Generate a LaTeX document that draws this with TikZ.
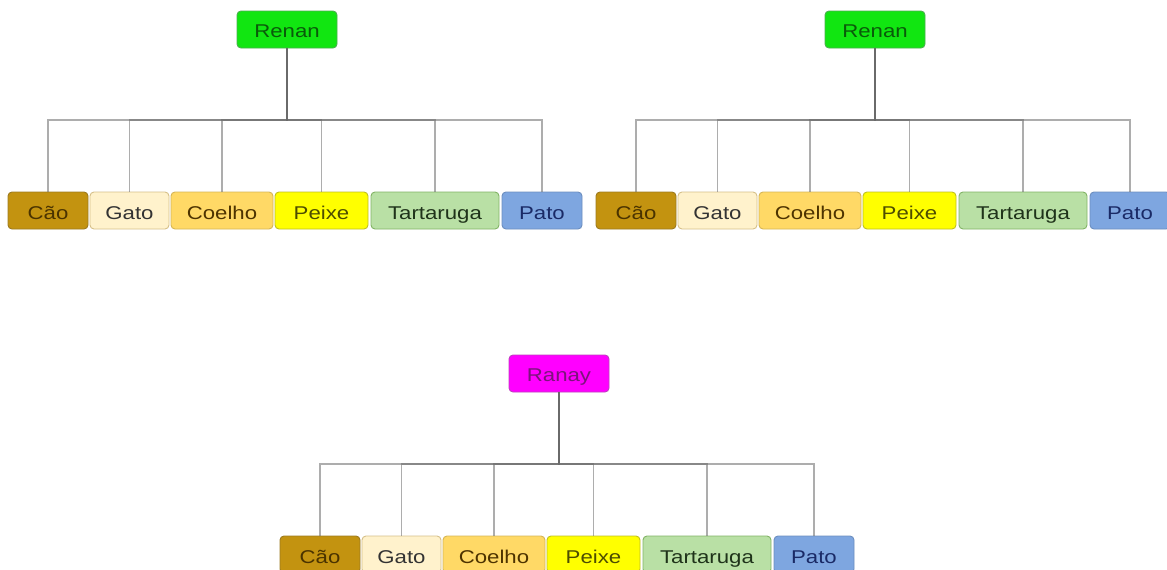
\documentclass[tikz,border=0pt]{standalone}
\usepackage{fontspec}
\setmainfont{Liberation Sans}[FakeStretch=1.2]
\usetikzlibrary{calc}
\definecolor{rootgreen}{HTML}{11E611}
\definecolor{rootgreenD}{HTML}{4CAF50}
\definecolor{rootgreenT}{HTML}{0A5A0A}
\definecolor{rootpink}{HTML}{FF00FF}
\definecolor{rootpinkD}{HTML}{C040C0}
\definecolor{rootpinkT}{HTML}{7A157A}
\definecolor{caoF}{HTML}{C39310}
\definecolor{caoD}{HTML}{9C7A20}
\definecolor{caoT}{HTML}{4A3300}
\definecolor{gatoF}{HTML}{FFF2CC}
\definecolor{gatoD}{HTML}{D6C08A}
\definecolor{coelhoF}{HTML}{FFD966}
\definecolor{coelhoD}{HTML}{D6B656}
\definecolor{coelhoT}{HTML}{4D3300}
\definecolor{peixeF}{HTML}{FFFF00}
\definecolor{peixeD}{HTML}{C0C020}
\definecolor{peixeT}{HTML}{4D4D00}
\definecolor{tartF}{HTML}{B9E0A5}
\definecolor{tartD}{HTML}{82B366}
\definecolor{tartT}{HTML}{1F331A}
\definecolor{patoF}{HTML}{7EA6E0}
\definecolor{patoD}{HTML}{6C8EBF}
\definecolor{patoT}{HTML}{1A2A66}
\definecolor{edgegray}{HTML}{6A6A6A}
\tikzset{
  box/.style={rectangle, rounded corners=4pt, line width=0.9pt, inner sep=0pt,
    minimum height=37pt, text height=17.2pt, text depth=0pt,
    font=\fontsize{18.5}{22}\selectfont},
  rootbox/.style={box, minimum width=100pt, text height=16pt},
  greenroot/.style={rootbox, fill=rootgreen, draw=rootgreenD, text=rootgreenT},
  pinkroot/.style={rootbox, fill=rootpink, draw=rootpinkD, text=rootpinkT},
  caobox/.style={box, fill=caoF, draw=caoD, text=caoT, minimum width=80pt},
  gatobox/.style={box, fill=gatoF, draw=gatoD, text=black!80, minimum width=79pt},
  coelhobox/.style={box, fill=coelhoF, draw=coelhoD, text=coelhoT, minimum width=102pt},
  peixebox/.style={box, fill=peixeF, draw=peixeD, text=peixeT, minimum width=93pt},
  tartbox/.style={box, fill=tartF, draw=tartD, text=tartT, minimum width=128pt},
  patobox/.style={box, fill=patoF, draw=patoD, text=patoT, minimum width=80pt},
  edge/.style={draw=edgegray, draw opacity=0.55, line width=1.7pt},
}
\newcommand{\orgtree}[5]{%
  \begin{scope}[shift={(#1,#2)}]
    \node[#4] (#3root) at (287,29.5) {#5};
    \coordinate (#3bar) at (287,120);
    \node[caobox] (#3cao) at (48,210.5) {Cão};
    \node[gatobox] (#3gato) at (129.5,210.5) {Gato};
    \node[coelhobox] (#3coelho) at (222,210.5) {Coelho};
    \node[peixebox] (#3peixe) at (321.5,210.5) {Peixe};
    \node[tartbox] (#3tart) at (435,210.5) {Tartaruga};
    \node[patobox] (#3pato) at (542,210.5) {Pato};
    \foreach \c in {cao,gato,coelho,peixe,tart,pato}{
      \draw[edge] (#3root.south) -- (#3bar) -| (#3\c.north);
    }
  \end{scope}}
\begin{document}
\begin{tikzpicture}[x=1pt,y=-1pt]
  \useasboundingbox[fill=white] (0,0) rectangle (1167,570);
  \orgtree{0}{0}{a}{greenroot}{Renan}
  \orgtree{588}{0}{b}{greenroot}{Renan}
  \orgtree{272}{344}{c}{pinkroot}{Ranay}
\end{tikzpicture}
\end{document}
